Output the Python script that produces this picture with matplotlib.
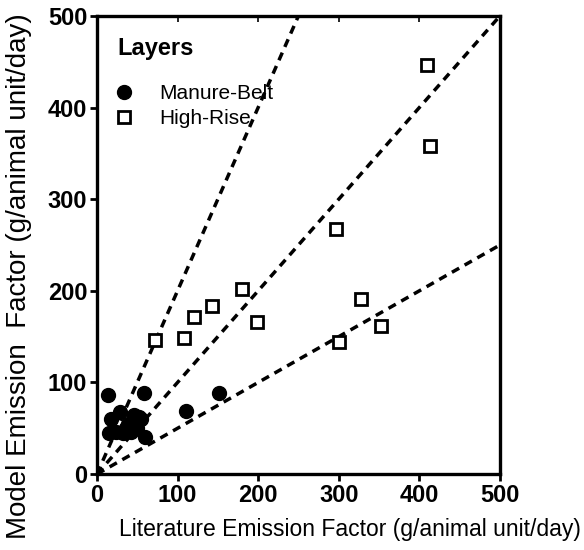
import numpy as np
import matplotlib
matplotlib.use('Agg')
import matplotlib.pyplot as plt

plt.rcParams['font.family'] = ['Liberation Sans', 'DejaVu Sans']

# Manure-Belt layers (filled circles)
belt_lit = [14, 58, 110, 152, 28, 17, 38, 46, 52, 55, 15, 24, 32, 42, 50, 60, 36]
belt_model = [86, 88, 69, 88, 68, 60, 55, 65, 62, 60, 45, 46, 45, 46, 50, 40, 50]

# High-Rise layers (open squares)
rise_lit = [72, 108, 120, 143, 180, 198, 297, 300, 328, 353, 410, 413]
rise_model = [146, 149, 171, 183, 202, 166, 267, 144, 191, 162, 447, 358]

# reference lines y = k * x
slopes = [2.0, 1.0, 0.5]

ticks = [0, 100, 200, 300, 400, 500]

fig = plt.figure(figsize=(5.84, 5.5), dpi=100)
ax = fig.add_axes([0.166, 0.138, 0.690, 0.833])

xs = np.array([0, 500])
for k in slopes:
    ax.plot(xs, k * xs, color='black', lw=2.5, ls=(0, (2.4, 1.8)), zorder=2)

ax.plot(belt_lit, belt_model, 'o', color='black', ms=10, ls='none',
        label='Manure-Belt', zorder=3)
ax.plot(rise_lit, rise_model, 's', mfc='white', mec='black', mew=2, ms=9,
        ls='none', label='High-Rise', zorder=3)

ax.set_xlim(0, 500)
ax.set_ylim(0, 500)
ax.set_xticks(ticks)
ax.set_yticks(ticks)
for lab in ax.get_xticklabels() + ax.get_yticklabels():
    lab.set_fontweight('bold')
ax.tick_params(direction='out', length=5, width=2, labelsize=17, pad=2)

for s in ax.spines.values():
    s.set_linewidth(2.4)

# little ticks on the top edge
top = ax.secondary_xaxis('top')
top.set_xticks([100, 200, 300, 400])
top.set_xticklabels([])
top.tick_params(direction='in', length=4, width=1.2)
top.spines['top'].set_visible(False)

ax.set_xlabel('Literature Emission Factor (g/animal unit/day)', fontsize=16.5)
ax.xaxis.set_label_coords(0.628, -0.095)
ax.set_ylabel('Model Emission  Factor (g/animal unit/day)', fontsize=20)
ax.yaxis.set_label_coords(-0.16, 0.432)

ax.text(0.05, 0.955, 'Layers', transform=ax.transAxes, fontsize=17,
        fontweight='bold', ha='left', va='top')
ax.legend(loc='upper left', bbox_to_anchor=(0.02, 0.87), frameon=False,
          fontsize=15, handletextpad=1.2, handlelength=1.0,
          borderaxespad=0.0, labelspacing=0.3)

fig.savefig('out.png', dpi=100)
